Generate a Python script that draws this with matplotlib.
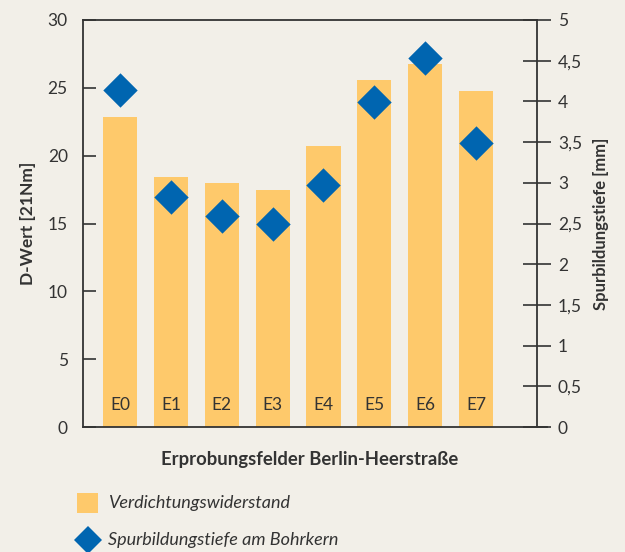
import matplotlib
matplotlib.use("Agg")
import matplotlib.pyplot as plt
from matplotlib.lines import Line2D
from matplotlib.patches import Rectangle

categories = ["E0", "E1", "E2", "E3", "E4", "E5", "E6", "E7"]
d_wert = [22.85, 18.4, 18.0, 17.5, 20.7, 25.6, 26.75, 24.8]
spurtiefe = [4.14, 2.83, 2.59, 2.49, 2.97, 3.99, 4.53, 3.49]
left_ticks = [0, 5, 10, 15, 20, 25, 30]
right_ticks = [0, 0.5, 1, 1.5, 2, 2.5, 3, 3.5, 4, 4.5, 5]
right_labels = ["0", "0,5", "1", "1,5", "2", "2,5", "3", "3,5", "4", "4,5", "5"]
legend_labels = ["Verdichtungswiderstand", "Spurbildungstiefe am Bohrkern"]

BG = "#f2efe8"
BAR = "#fec96b"
BLUE = "#0065b0"
INK = "#333333"
plt.rcParams['font.family'] = ['Lato', 'DejaVu Sans']

fig = plt.figure(figsize=(6.25, 5.52), dpi=100, facecolor=BG)
W, H = 625, 552
ax = fig.add_axes([83 / W, 1 - 427 / H, 454 / W, 407 / H])
ax.set_facecolor(BG)
x = list(range(len(categories)))
ax.bar(x, d_wert, width=0.67, color=BAR, zorder=1)
ax.set_xlim(-0.73, 8.2)
ax.set_ylim(0, 30)
ax.set_yticks(left_ticks)
ax.set_yticklabels([str(t) for t in left_ticks], fontsize=12.5, color=INK)
ax.tick_params(axis='y', direction='in', length=9, width=1.2, color=INK, pad=11)
ax.set_xticks([])
for s in ["left", "top", "bottom", "right"]:
    ax.spines[s].set_color(INK)
    ax.spines[s].set_linewidth(1.3)
for xi, c in zip(x, categories):
    ax.text(xi, 1.6, c, ha='center', va='center', fontsize=12.5, color=INK, zorder=3)
ax.set_ylabel("D-Wert [21Nm]", fontsize=12.5, fontweight='bold', color=INK, labelpad=8)
ax.set_xlabel("Erprobungsfelder Berlin-Heerstraße", fontsize=13.3, fontweight='bold',
              color=INK, labelpad=17)

ax2 = ax.twinx()
ax2.set_ylim(0, 5)
ax2.scatter(x, spurtiefe, marker='D', s=17.5 ** 2, color=BLUE, zorder=4, clip_on=False,
            linewidths=0)
ax2.set_yticks(right_ticks)
ax2.set_yticklabels(right_labels, fontsize=12.5, color=INK)
ax2.tick_params(axis='y', direction='inout', length=20, width=1.2, color=INK, pad=5)
for s in ["left", "top", "bottom", "right"]:
    ax2.spines[s].set_visible(False)
ax2.set_ylabel("Spurbildungstiefe [mm]", fontsize=12, fontweight='bold', color=INK,
               labelpad=8)
ax.set_zorder(1)
ax2.set_zorder(2)
ax2.patch.set_visible(False)
ax.plot([1.0, 1.022], [0, 0], transform=ax.transAxes, color=INK, lw=1.3, clip_on=False)

# legend drawn manually in figure pixels
fig.patches.append(Rectangle((77 / W, 1 - 513 / H), 21 / W, 20 / H, transform=fig.transFigure,
                             facecolor=BAR, edgecolor='none'))
fig.lines.append(Line2D([88 / W], [1 - 540 / H], transform=fig.transFigure, marker='D',
                        markersize=14, color=BLUE, linestyle='none', markeredgewidth=0))
fig.text(108 / W, 1 - 503 / H, legend_labels[0], fontsize=13, style='italic', color=INK,
         va='center', ha='left')
fig.text(108 / W, 1 - 540 / H, legend_labels[1], fontsize=13, style='italic', color=INK,
         va='center', ha='left')

fig.savefig("out.png", dpi=100, facecolor=BG)
